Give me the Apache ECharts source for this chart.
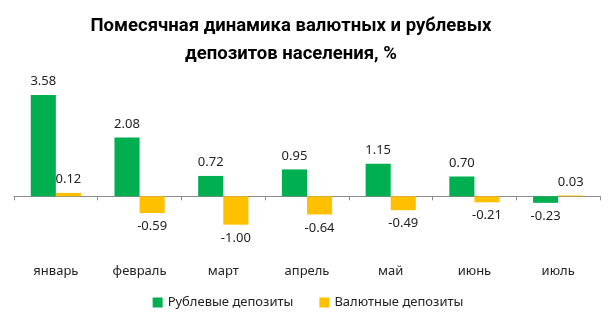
<!DOCTYPE html>
<html><head><meta charset="utf-8">
<script src="https://cdn.jsdelivr.net/npm/echarts@6/dist/echarts.min.js"></script>
<style>html,body{margin:0;padding:0;background:#fff}#c{width:616px;height:325px}</style>
</head><body><div id="c"></div>
<script>
var categories = ['январь','февраль','март','апрель','май','июнь','июль'];
var rubDeposits = [3.58, 2.08, 0.72, 0.95, 1.15, 0.70, -0.23];
var fxDeposits = [0.12, -0.59, -1.00, -0.64, -0.49, -0.21, 0.03];
var seriesNames = ['Рублевые депозиты','Валютные депозиты'];
var titleText = 'Помесячная динамика валютных и рублевых\nдепозитов населения, %';

var FONT = 'Noto Sans';
function withLabels(arr){
  return arr.map(function(v){
    return {value: v, label: {position: v >= 0 ? 'top' : 'bottom'}};
  });
}
var chart = echarts.init(document.getElementById('c'));
chart.setOption({
  animation: false,
  textStyle: {fontFamily: FONT},
  title: {
    text: titleText, left: 286, top: 7, textAlign: 'center',
    textStyle: {fontFamily: 'Roboto', fontSize: 18.5, fontWeight: 'bold', color: '#000', lineHeight: 28}
  },
  legend: {
    bottom: 11, left: 'center', itemWidth: 10, itemHeight: 10, itemGap: 26,
    icon: 'rect',
    textStyle: {fontFamily: FONT, fontSize: 13, color: '#222'},
    data: seriesNames
  },
  grid: {left: 14, right: 16, top: 83, bottom: 72, containLabel: false, outerBoundsMode: 'none'},
  xAxis: {
    type: 'category', data: categories,
    axisLine: {onZero: true, lineStyle: {color: '#8c8c8c', width: 1}},
    axisTick: {show: true, length: 4, lineStyle: {color: '#8c8c8c'}},
    axisLabel: {margin: 12, fontSize: 13, color: '#222', fontFamily: FONT}
  },
  yAxis: {type: 'value', min: -2, max: 4, show: false, splitLine: {show: false}},
  series: [
    {name: seriesNames[0], type: 'bar', data: withLabels(rubDeposits), barWidth: '30%', barGap: '0%',
     itemStyle: {color: '#00B050'},
     label: {show: true, distance: 7, fontSize: 13, color: '#222', fontFamily: FONT,
       formatter: function(p){return p.value.toFixed(2);}}},
    {name: seriesNames[1], type: 'bar', data: withLabels(fxDeposits), barWidth: '30%', barGap: '0%',
     itemStyle: {color: '#FFC000'},
     label: {show: true, distance: 7, fontSize: 13, color: '#222', fontFamily: FONT,
       formatter: function(p){return p.value.toFixed(2);}}}
  ]
});
</script></body></html>
